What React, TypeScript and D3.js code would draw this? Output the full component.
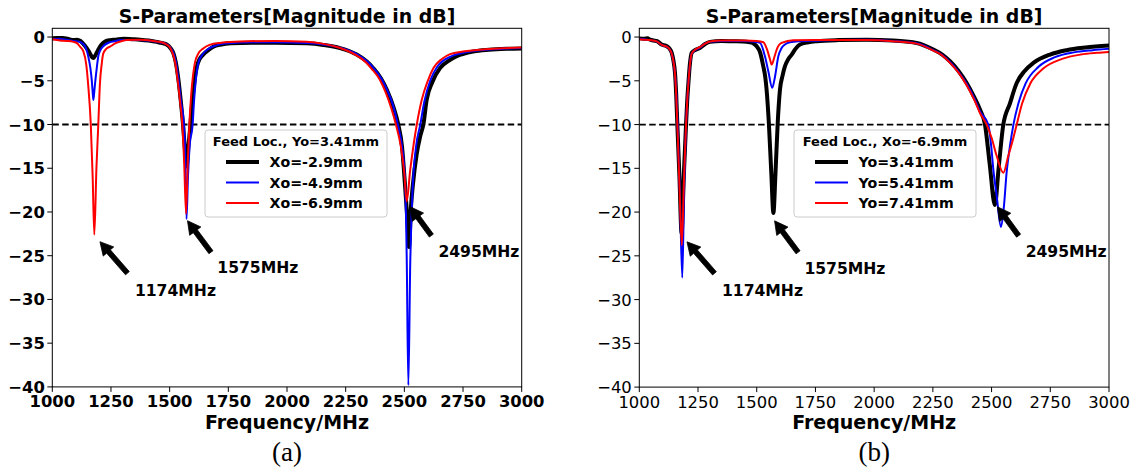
import React from 'react';
import * as d3 from 'd3';

type Pt = [number, number];

const W = 1137;
const H = 470;

const freqTicks = [1000, 1250, 1500, 1750, 2000, 2250, 2500, 2750, 3000];
const dbTicks = [0, -5, -10, -15, -20, -25, -30, -35, -40];
const freqDomain: Pt = [1000, 3000];
const dbDomain: Pt = [-40, 1];
const thresholdDb = -10;

const panelTitle = 'S-Parameters[Magnitude in dB]';
const xLabel = 'Frequency/MHz';
const seriesColors = ['#000000', '#0000ff', '#ff0000'];

// ---------- panel (a): Yo = 3.41 mm, Xo varies ----------
const aLegendTitle = 'Feed Loc., Yo=3.41mm';
const aNames = ['Xo=-2.9mm', 'Xo=-4.9mm', 'Xo=-6.9mm'];

const aXo29: Pt[] = [
  [1000, -0.15], [1020, -0.1], [1045, -0.1], [1065, -0.2], [1090, -0.35], [1105, -0.3],
  [1120, -0.45], [1139, -1.0], [1152, -1.5], [1161, -1.9], [1168, -2.25], [1175, -2.4],
  [1182, -2.15], [1189, -1.8], [1200, -1.25], [1210, -0.85], [1225, -0.5], [1246, -0.35],
  [1270, -0.3], [1303, -0.2], [1340, -0.25], [1374, -0.3], [1410, -0.4], [1445, -0.55],
  [1470, -0.7], [1487, -0.85], [1503, -1.25], [1516, -1.85], [1527, -3.0], [1537, -4.8],
  [1547, -7.2], [1557, -10], [1565, -12.8], [1572, -14.8], [1580, -12.5], [1587, -10.5],
  [1596, -7.5], [1605, -5.2], [1615, -3.5], [1628, -2.5], [1643, -2.0], [1665, -1.5],
  [1686, -1.1], [1720, -0.85], [1760, -0.72], [1850, -0.65], [1950, -0.65], [2084, -0.72],
  [2155, -0.9], [2226, -1.26], [2297, -2.0], [2340, -2.8], [2368, -3.56], [2400, -4.7],
  [2425, -6.0], [2453, -7.95], [2474, -10], [2490, -12.5], [2503, -17], [2512, -20.5],
  [2520, -24], [2528, -19.5], [2536, -17], [2553, -13.3], [2568, -11.3], [2581, -10],
  [2595, -7.2], [2620, -5.1], [2652, -3.55], [2690, -2.7], [2723, -2.2], [2794, -1.65],
  [2860, -1.45], [2936, -1.34], [3000, -1.3],
];

const aXo49: Pt[] = [
  [1000, -0.25], [1030, -0.2], [1060, -0.3], [1090, -0.45], [1110, -0.5], [1132, -0.8],
  [1145, -1.4], [1153, -2.2], [1162, -3.5], [1168, -4.9], [1172, -6.3], [1175, -7.2],
  [1179, -6.2], [1183, -5.1], [1190, -3.4], [1196, -2.2], [1205, -1.5], [1217, -1.05],
  [1240, -0.65], [1260, -0.5], [1300, -0.35], [1374, -0.35], [1445, -0.55], [1487, -0.8],
  [1503, -1.2], [1516, -1.8], [1527, -2.9], [1537, -4.7], [1548, -7.3], [1561, -10],
  [1567, -14], [1572, -20.8], [1578, -16], [1585, -12.5], [1598, -10], [1604, -7.3],
  [1612, -4.8], [1622, -3.0], [1640, -2.0], [1665, -1.35], [1700, -0.95], [1750, -0.72],
  [1850, -0.6], [1950, -0.6], [2084, -0.68], [2155, -0.85], [2226, -1.22], [2297, -1.95],
  [2340, -2.75], [2368, -3.5], [2400, -4.65], [2425, -5.95], [2453, -7.9], [2472, -10],
  [2490, -12.5], [2503, -16.5], [2510, -25], [2517, -39.8], [2525, -26], [2535, -17.5],
  [2550, -12.5], [2568, -10], [2585, -7.4], [2610, -5.0], [2640, -3.4], [2700, -2.2],
  [2760, -1.75], [2850, -1.45], [2930, -1.32], [3000, -1.25],
];

const aXo69: Pt[] = [
  [1000, -0.25], [1033, -0.4], [1060, -0.45], [1090, -0.55], [1105, -0.7], [1118, -1.1],
  [1132, -1.6], [1145, -3.2], [1153, -5.5], [1164, -10], [1172, -16], [1179, -22.6],
  [1188, -15], [1196, -10], [1203, -5.3], [1210, -3.2], [1217, -1.9], [1230, -1.35],
  [1246, -1.1], [1270, -0.7], [1290, -0.5], [1317, -0.35], [1374, -0.3], [1445, -0.5],
  [1480, -0.75], [1500, -1.15], [1512, -1.8], [1524, -3.0], [1534, -4.9], [1545, -7.5],
  [1554, -10], [1562, -14.5], [1570, -20.2], [1577, -14.5], [1584, -10], [1592, -6.5],
  [1600, -4.3], [1608, -2.9], [1622, -1.9], [1643, -1.3], [1670, -0.9], [1720, -0.65],
  [1800, -0.5], [1950, -0.45], [2084, -0.55], [2155, -0.78], [2220, -1.2], [2290, -2.0],
  [2335, -2.85], [2360, -3.6], [2395, -4.85], [2420, -6.3], [2445, -8.2], [2464, -10],
  [2485, -12.5], [2500, -15.6], [2510, -18.8], [2525, -15.2], [2540, -12.2], [2553, -10],
  [2574, -7.2], [2600, -5.0], [2624, -3.55], [2660, -2.5], [2695, -1.95], [2750, -1.65],
  [2800, -1.5], [2900, -1.3], [3000, -1.2],
];

// ---------- panel (b): Xo = -6.9 mm, Yo varies ----------
const bLegendTitle = 'Feed Loc., Xo=-6.9mm';
const bNames = ['Yo=3.41mm', 'Yo=5.41mm', 'Yo=7.41mm'];

const bYo341: Pt[] = [
  [1000, -0.15], [1020, -0.2], [1035, -0.15], [1046, -0.3], [1060, -0.4], [1074, -0.45],
  [1095, -0.85], [1117, -1.05], [1128, -1.3], [1138, -1.8], [1146, -2.8], [1152, -4.1],
  [1157, -6.5], [1162, -10], [1171, -16], [1180, -22.4], [1190, -15.5], [1199, -10],
  [1204, -7.3], [1209, -5.3], [1215, -3.2], [1223, -1.8], [1240, -1.45], [1258, -1.25],
  [1280, -0.8], [1301, -0.55], [1350, -0.45], [1400, -0.48], [1440, -0.5], [1471, -0.6],
  [1490, -0.8], [1500, -1.05], [1515, -1.8], [1528, -3.35], [1536, -4.5], [1542, -6.0],
  [1552, -10], [1562, -15.5], [1571, -20.1], [1580, -15.5], [1589, -10], [1599, -6.0],
  [1610, -4.4], [1620, -3.35], [1635, -2.5], [1649, -2.0], [1665, -1.35], [1684, -0.85],
  [1720, -0.6], [1755, -0.48], [1850, -0.35], [1968, -0.3], [2080, -0.4], [2181, -0.67],
  [2252, -1.43], [2290, -2.0], [2323, -2.77], [2360, -3.9], [2394, -5.25], [2425, -6.8],
  [2451, -8.3], [2472, -10], [2492, -14.5], [2514, -19.2], [2530, -15], [2550, -10],
  [2578, -7.6], [2607, -5.25], [2640, -3.9], [2678, -2.96], [2749, -2.0], [2820, -1.5],
  [2900, -1.2], [3000, -0.97],
];

const bYo541: Pt[] = [
  [1000, -0.2], [1020, -0.25], [1046, -0.35], [1074, -0.5], [1095, -0.9], [1117, -1.1],
  [1128, -1.35], [1138, -1.9], [1146, -2.9], [1152, -4.2], [1158, -6.6], [1163, -10],
  [1173, -18], [1183, -27.5], [1191, -17], [1199, -10], [1204, -7.3], [1209, -5.3],
  [1215, -3.3], [1223, -1.9], [1240, -1.45], [1258, -1.2], [1280, -0.75], [1301, -0.55],
  [1350, -0.45], [1400, -0.45], [1450, -0.45], [1490, -0.55], [1514, -0.67], [1535, -2.2],
  [1550, -4.0], [1566, -5.8], [1578, -4.5], [1592, -2.2], [1606, -1.24], [1620, -0.85],
  [1642, -0.59], [1684, -0.48], [1755, -0.42], [1850, -0.35], [1968, -0.32], [2080, -0.45],
  [2181, -0.72], [2252, -1.5], [2290, -2.05], [2323, -2.85], [2360, -4.0], [2394, -5.35],
  [2425, -6.9], [2451, -8.5], [2486, -10], [2500, -12.9], [2507, -15], [2522, -18.2],
  [2540, -21.7], [2552, -19.5], [2564, -15.5], [2578, -12.5], [2593, -10], [2615, -7.5],
  [2645, -5.3], [2700, -3.4], [2770, -2.3], [2850, -1.75], [2930, -1.5], [3000, -1.35],
];

const bYo741: Pt[] = [
  [1000, -0.25], [1020, -0.3], [1046, -0.35], [1074, -0.5], [1095, -0.9], [1117, -1.1],
  [1128, -1.35], [1138, -1.9], [1146, -2.9], [1152, -4.2], [1157, -6.6], [1162, -10],
  [1171, -17], [1181, -23.8], [1190, -16.5], [1199, -10], [1204, -7.3], [1209, -5.3],
  [1215, -3.3], [1223, -1.9], [1240, -1.4], [1258, -1.15], [1280, -0.75], [1301, -0.5],
  [1350, -0.4], [1400, -0.4], [1450, -0.4], [1500, -0.45], [1528, -0.59], [1545, -1.5],
  [1556, -2.5], [1564, -3.15], [1574, -2.4], [1585, -1.43], [1606, -0.67], [1656, -0.36],
  [1755, -0.35], [1850, -0.35], [1968, -0.35], [2080, -0.48], [2181, -0.75], [2252, -1.55],
  [2290, -2.1], [2323, -2.95], [2360, -4.1], [2394, -5.5], [2425, -7.1], [2451, -8.7],
  [2479, -10], [2500, -11.5], [2522, -13.6], [2550, -15.5], [2571, -13.6], [2593, -11.5],
  [2607, -10], [2630, -7.6], [2665, -5.3], [2720, -3.6], [2800, -2.5], [2880, -2.0],
  [2950, -1.8], [3000, -1.7],
];

// ---------- annotations (shared by both panels) ----------
const annoLabels = ['1174MHz', '1575MHz', '2495MHz'];
const annoTips: Pt[] = [[1203, -23.4], [1576, -21.0], [2525, -19.4]];
const annoTails: Pt[] = [[1320, -27.0], [1676, -24.6], [2615, -22.7]];
const annoTexts: Pt[] = [[1352, -29.0], [1703, -26.4], [2645, -24.5]];

const FONT = '"DejaVu Sans", Verdana, sans-serif';

function arrowPath(x0: number, y0: number, x1: number, y1: number) {
  const dx = x1 - x0;
  const dy = y1 - y0;
  const len = Math.hypot(dx, dy);
  const ux = dx / len;
  const uy = dy / len;
  const nx = -uy;
  const ny = ux;
  const headLen = 13;
  const headW = 14;
  const shaftW = 5;
  const bx = x1 - ux * headLen;
  const by = y1 - uy * headLen;
  const p = d3.path();
  p.moveTo(x0 + nx * shaftW / 2, y0 + ny * shaftW / 2);
  p.lineTo(bx + nx * shaftW / 2, by + ny * shaftW / 2);
  p.lineTo(bx + nx * headW / 2, by + ny * headW / 2);
  p.lineTo(x1, y1);
  p.lineTo(bx - nx * headW / 2, by - ny * headW / 2);
  p.lineTo(bx - nx * shaftW / 2, by - ny * shaftW / 2);
  p.lineTo(x0 - nx * shaftW / 2, y0 - ny * shaftW / 2);
  p.closePath();
  return p.toString();
}

interface PanelProps {
  id: string;
  left: number;
  top: number;
  width: number;
  height: number;
  series: Pt[][];
  names: string[];
  legendTitle: string;
  legendLeft: number;
  bold: boolean;
  caption: string;
}

function Panel(props: PanelProps) {
  const { id, left, top, width, height, series, names, legendTitle, legendLeft, bold, caption } = props;
  const x = d3.scaleLinear().domain(freqDomain).range([left, left + width]);
  const y = d3.scaleLinear().domain(dbDomain).range([top + height, top]);
  const line = d3
    .line<Pt>()
    .x((d) => x(d[0]))
    .y((d) => y(d[1]))
    .curve(d3.curveMonotoneX);
  const tickWeight = bold ? 'bold' : 'normal';
  const cx = left + width / 2;
  const widths = [4, 2, 2];
  const lgTop = 130;
  const lgW = 182;
  const lgH = 87;
  const rowY = [162, 182.5, 203];
  const fmt = (v: number) => (v < 0 ? '\u2212' + Math.abs(v) : String(v));

  return (
    <g>
      <defs>
        <clipPath id={`clip-${id}`}>
          <rect x={left} y={top} width={width} height={height} />
        </clipPath>
      </defs>
      <text x={cx} y={23} textAnchor="middle" fontFamily={FONT} fontWeight="bold" fontSize={18.9}>
        {panelTitle}
      </text>
      <g clipPath={`url(#clip-${id})`}>
        <line
          x1={x(freqDomain[0])}
          x2={x(freqDomain[1])}
          y1={y(thresholdDb)}
          y2={y(thresholdDb)}
          stroke="#000"
          strokeWidth={1.8}
          strokeDasharray="6.5 3.4"
        />
        {series.map((s, i) => (
          <path
            key={i}
            d={line(s) || ''}
            fill="none"
            stroke={seriesColors[i]}
            strokeWidth={widths[i]}
            strokeLinejoin="round"
            strokeLinecap="round"
          />
        ))}
      </g>
      <rect x={left} y={top} width={width} height={height} fill="none" stroke="#000" strokeWidth={1} />
      {freqTicks.map((t) => (
        <g key={`xt${t}`}>
          <line x1={x(t)} x2={x(t)} y1={top + height} y2={top + height + 5} stroke="#000" strokeWidth={1} />
          <text
            x={x(t)}
            y={top + height + 20.5}
            textAnchor="middle"
            fontFamily={FONT}
            fontWeight={tickWeight}
            fontSize={16.4}
          >
            {t}
          </text>
        </g>
      ))}
      {dbTicks.map((t) => (
        <g key={`yt${t}`}>
          <line x1={left - 5} x2={left} y1={y(t)} y2={y(t)} stroke="#000" strokeWidth={1} />
          <text
            x={left - 7.5}
            y={y(t) + 6}
            textAnchor="end"
            fontFamily={FONT}
            fontWeight={tickWeight}
            fontSize={16.4}
          >
            {fmt(t)}
          </text>
        </g>
      ))}
      <text x={cx} y={428.5} textAnchor="middle" fontFamily={FONT} fontWeight="bold" fontSize={19}>
        {xLabel}
      </text>
      <text x={cx} y={460.5} textAnchor="middle" fontFamily='"Liberation Serif", "Times New Roman", serif' fontSize={27}>
        {caption}
      </text>

      {/* legend */}
      <rect
        x={legendLeft}
        y={lgTop}
        width={lgW}
        height={lgH}
        rx={3}
        fill="#fff"
        fillOpacity={0.8}
        stroke="#cccccc"
        strokeWidth={1}
      />
      <text
        x={legendLeft + lgW / 2}
        y={lgTop + 15.5}
        textAnchor="middle"
        fontFamily={FONT}
        fontWeight="bold"
        fontSize={13}
      >
        {legendTitle}
      </text>
      {names.map((n, i) => (
        <g key={n}>
          <line
            x1={legendLeft + 21}
            x2={legendLeft + 54}
            y1={rowY[i]}
            y2={rowY[i]}
            stroke={seriesColors[i]}
            strokeWidth={widths[i]}
          />
          <text x={legendLeft + 64.5} y={rowY[i] + 5.2} fontFamily={FONT} fontWeight="bold" fontSize={14.2}>
            {n}
          </text>
        </g>
      ))}

      {/* annotations */}
      {annoLabels.map((lab, i) => (
        <g key={lab}>
          <path
            d={arrowPath(x(annoTails[i][0]), y(annoTails[i][1]), x(annoTips[i][0]), y(annoTips[i][1]))}
            fill="#000"
            stroke="#000"
            strokeWidth={0.8}
            strokeLinejoin="miter"
          />
          <text
            x={x(annoTexts[i][0])}
            y={y(annoTexts[i][1]) + 5.5}
            fontFamily={FONT}
            fontWeight="bold"
            fontSize={15.6}
          >
            {lab}
          </text>
        </g>
      ))}
    </g>
  );
}

export default function App() {
  return (
    <svg
      width={W}
      height={H}
      viewBox={`0 0 ${W} ${H}`}
      style={{ position: 'absolute', left: 0, top: 0, background: '#fff' }}
    >
      <rect x={0} y={0} width={W} height={H} fill="#fff" />
      <Panel
        id="a"
        left={52.3}
        top={28.3}
        width={469.4}
        height={358.6}
        series={[aXo29, aXo49, aXo69]}
        names={aNames}
        legendTitle={aLegendTitle}
        legendLeft={205}
        bold={true}
        caption="(a)"
      />
      <Panel
        id="b"
        left={639.3}
        top={28.3}
        width={469.7}
        height={358.8}
        series={[bYo341, bYo541, bYo741]}
        names={bNames}
        legendTitle={bLegendTitle}
        legendLeft={794}
        bold={false}
        caption="(b)"
      />
    </svg>
  );
}
